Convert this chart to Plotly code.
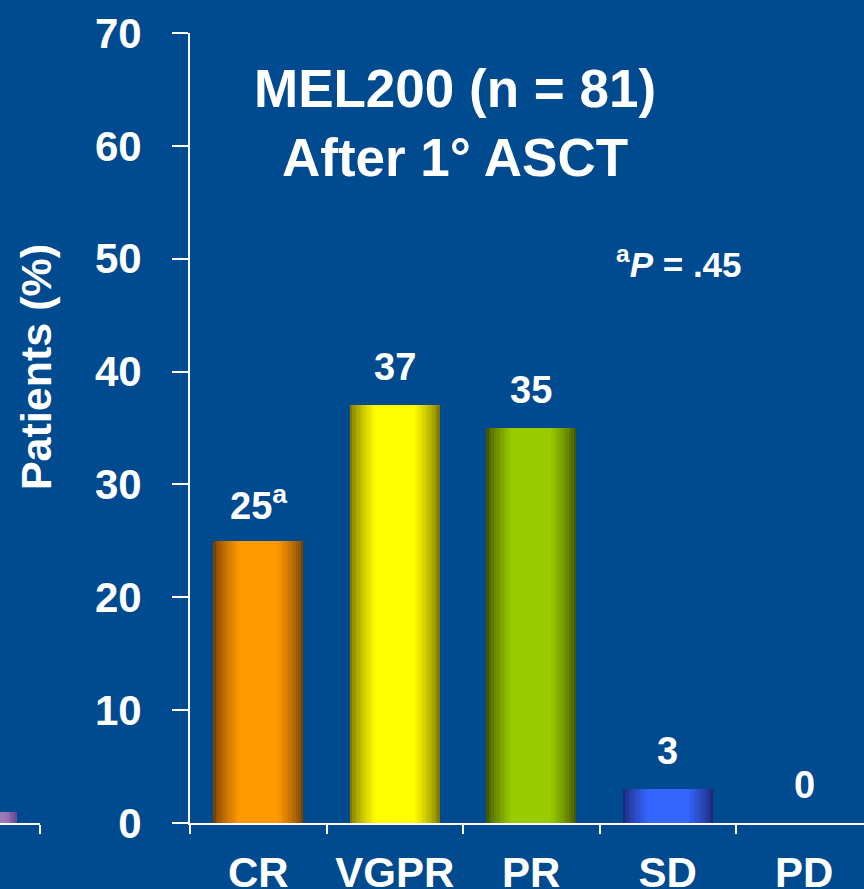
import plotly.graph_objects as go

# ---- data ----
categories = ["CR", "VGPR", "PR", "SD", "PD"]
values = [25, 37, 35, 3, 0]
value_labels = ["25<sup>a</sup>", "37", "35", "3", "0"]
edge_colors = ["#7A4200", "#7F7A00", "#445800", "#1E2A78", "#1E2A78"]
center_colors = ["#FF9900", "#FFFF00", "#99CC00", "#3366FF", "#3366FF"]
y_ticks = [0, 10, 20, 30, 40, 50, 60, 70]
remnant_values = [1]  # bar of the neighbouring (cut-off) chart at the left edge

BG = "#004A8F"
FONT = "Liberation Sans, Arial, sans-serif"


def hex2rgb(h):
    h = h.lstrip("#")
    return tuple(int(h[i:i + 2], 16) for i in (0, 2, 4))


def mix(c1, c2, t):
    a, b = hex2rgb(c1), hex2rgb(c2)
    return "rgb(%d,%d,%d)" % tuple(round(a[i] + (b[i] - a[i]) * t) for i in range(3))


fig = go.Figure()

# cylindrical shading: stacked overlay bars of decreasing width
BAR_W = 0.66
N = 18
for k in range(N):
    p = 1 - k / N  # half-width fraction
    g = min(1.0, max(0.0, (1 - p) / 0.55)) ** 0.75
    cols = [mix(e, c, g) for e, c in zip(edge_colors, center_colors)]
    fig.add_trace(go.Bar(
        x=categories, y=values, width=BAR_W * p,
        marker=dict(color=cols, line=dict(width=0)),
        showlegend=False, hoverinfo="skip", xaxis="x", yaxis="y",
    ))

# remnant of neighbouring chart
for k in range(6):
    p = 1 - k / 6
    g = min(1.0, (1 - p) / 0.6)
    fig.add_trace(go.Bar(
        x=[0], y=remnant_values, width=0.85 * p,
        marker=dict(color=mix("#6A4C98", "#9A78B8", g), line=dict(width=0)),
        showlegend=False, hoverinfo="skip", xaxis="x2", yaxis="y",
    ))

# value labels
for cat, v, lab in zip(categories, values, value_labels):
    fig.add_annotation(
        x=cat, y=v, xref="x", yref="y", text=lab, showarrow=False,
        yshift=38, yanchor="middle",
        font=dict(family=FONT, size=38, color="white", weight="bold"),
    )

# title inside plot
fig.add_annotation(
    x=455 / 864, y=62, xref="paper", yref="y",
    text="MEL200 (n = 81)<br>After 1° ASCT", showarrow=False,
    yanchor="middle", align="center",
    font=dict(family=FONT, size=53, color="white", weight="bold"),
)

# P-value note
fig.add_annotation(
    x=3.08, y=49.7, xref="x", yref="y",
    text="<sup>a</sup><i>P</i> = .45", showarrow=False, yanchor="middle",
    font=dict(family=FONT, size=35, color="white", weight="bold"),
)

# y-axis title
fig.add_annotation(
    x=36 / 864, y=40.4, xref="paper", yref="y",
    text="Patients (%)", showarrow=False, textangle=-90,
    xanchor="center", yanchor="middle",
    font=dict(family=FONT, size=43, color="white", weight="bold"),
)

fig.update_layout(
    width=864, height=889, autosize=False,
    paper_bgcolor=BG, plot_bgcolor=BG,
    margin=dict(l=0, r=0, t=33, b=66),
    barmode="overlay", bargap=0,
    showlegend=False,
    xaxis=dict(
        domain=[190 / 864, 1], type="category",
        range=[-0.5, -0.5 + (864 - 190) / 136.5],
        showline=True, linecolor="white", linewidth=2,
        ticks="outside", tickson="boundaries", ticklen=9, tickwidth=2, tickcolor="white",
        tickfont=dict(family=FONT, size=42, color="white", weight="bold"),
        ticklabelstandoff=12, automargin=False,
        showgrid=False, zeroline=False, anchor="y",
    ),
    xaxis2=dict(
        domain=[0, 40 / 864], range=[0, 1], anchor="y",
        showline=True, linecolor="white", linewidth=2,
        ticks="outside", tickvals=[1], ticklen=9, tickwidth=2, tickcolor="white",
        showticklabels=False, showgrid=False, zeroline=False, automargin=False,
    ),
    yaxis=dict(
        range=[0, 70], tickvals=y_ticks, anchor="x",
        showline=True, linecolor="white", linewidth=2,
        ticks="outside", ticklen=16, tickwidth=2, tickcolor="white",
        tickfont=dict(family=FONT, size=42, color="white", weight="bold"),
        ticklabelstandoff=22, automargin=False,
        showgrid=False, zeroline=False,
    ),
)

fig.write_html(
    "out.html",
    config=dict(displayModeBar=False, responsive=False),
    post_script="document.body.style.margin='0';document.body.style.background='%s';"
                "document.body.style.overflow='hidden';" % BG,
)
